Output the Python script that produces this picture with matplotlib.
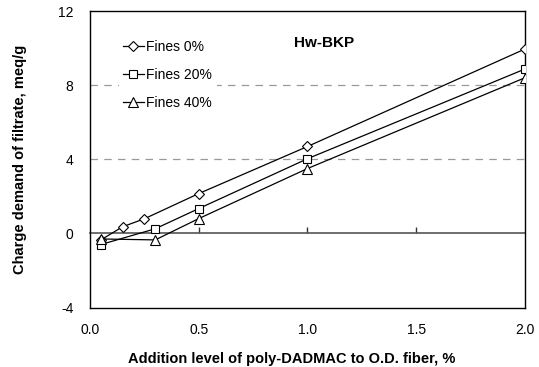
import matplotlib
matplotlib.use('Agg')
import matplotlib.pyplot as plt

plt.rcParams['font.family'] = ['Liberation Sans', 'DejaVu Sans']
plt.rcParams['axes.unicode_minus'] = False

# data
x_f0 = [0.05, 0.15, 0.25, 0.5, 1.0, 2.0]
y_f0 = [-0.35, 0.36, 0.79, 2.15, 4.69, 9.95]
x_f20 = [0.05, 0.3, 0.5, 1.0, 2.0]
y_f20 = [-0.6, 0.25, 1.34, 4.03, 8.87]
x_f40 = [0.05, 0.3, 0.5, 1.0, 2.0]
y_f40 = [-0.3, -0.35, 0.8, 3.5, 8.4]
labels = ['Fines 0%', 'Fines 20%', 'Fines 40%']
xticks = [0.0, 0.5, 1.0, 1.5, 2.0]
yticks = [-4, 0, 4, 8, 12]

fig = plt.figure(figsize=(5.39, 3.67), dpi=100)
ax = fig.add_axes([0.167, 0.162, 0.807, 0.808])

ax.set_xlim(0, 2.0)
ax.set_ylim(-4, 12)

# dashed grid at 4 and 8
for g in [4, 8]:
    ax.axhline(g, color='#999999', lw=0.9, ls=(0, (6, 5)), zorder=0)

# zero axis line with upward ticks
zax = ax.secondary_xaxis(0.25)
zax.spines['bottom'].set_color('#555555')
zax.spines['bottom'].set_linewidth(1.2)
zax.set_xticks([0.5, 1.0, 1.5])
zax.tick_params(direction='in', length=4, width=1, color='#333333', labelbottom=False)

style = dict(color='black', lw=0.9, mfc='white', mec='black', mew=0.8)
ax.plot(x_f0, y_f0, marker='D', ms=5, label=labels[0], **style, zorder=3)
ax.plot(x_f20, y_f20, marker='s', ms=6, label=labels[1], **style, zorder=3)
ax.plot(x_f40, y_f40, marker='^', ms=7, label=labels[2], **style, zorder=3)

ax.set_xticks(xticks)
ax.set_xticklabels(['%.1f' % v for v in xticks])
ax.set_yticks(yticks)
ax.tick_params(axis='x', length=0, pad=11, labelsize=10)
ax.tick_params(axis='y', direction='in', length=0, pad=12, labelsize=10)

for s in ax.spines.values():
    s.set_linewidth(1.0)

ax.set_xlabel('Addition level of poly-DADMAC to O.D. fiber, %', fontsize=10.5,
              fontweight='bold', labelpad=11, x=0.463)
ax.set_ylabel('Charge demand of filtrate, meq/g', fontsize=10.5,
              fontweight='bold', labelpad=22)

leg = ax.legend(loc='upper left', bbox_to_anchor=(0.05, 0.94), frameon=True,
                fancybox=False, edgecolor='none', facecolor='white', framealpha=1,
                fontsize=10, handlelength=1.5, handletextpad=0.2, labelspacing=1.0,
                borderpad=0.3)
leg.set_zorder(5)

ax.text(0.47, 0.892, 'Hw-BKP', transform=ax.transAxes, fontsize=11,
        fontweight='bold', ha='left', va='center')

fig.savefig('out.png', dpi=100)
